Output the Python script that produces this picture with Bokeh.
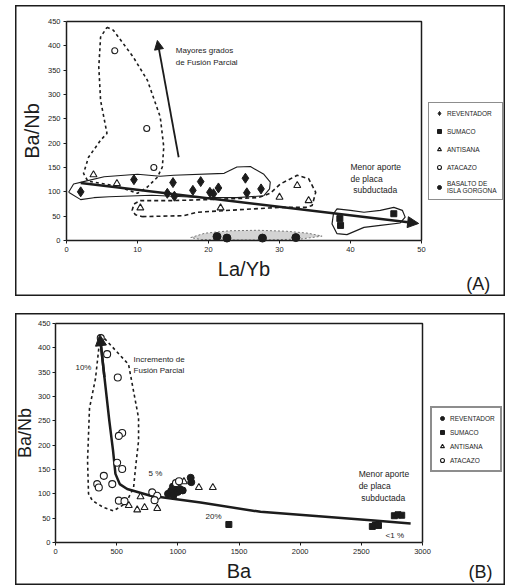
from bokeh.plotting import figure
from bokeh.models import Legend, LegendItem, Arrow, NormalHead, Label, Range1d
from bokeh.layouts import column
from bokeh.embed import file_html
from bokeh.resources import INLINE

FONT = "Liberation Sans"
INK = "#1c1c1c"

# ---------------- Panel A : La/Yb vs Ba/Nb ----------------
a_xticks = [0, 10, 20, 30, 40, 50]
a_yticks = [0, 50, 100, 150, 200, 250, 300, 350, 400, 450]

rev_a_x = [2.0, 9.5, 14.2, 15.0, 15.2, 17.8, 18.9, 20.2, 20.7, 21.4, 25.2, 25.4, 27.4]
rev_a_y = [100, 125, 97, 119, 91, 103, 121, 99, 96, 108, 128, 98, 106]
sum_a_x = [38.5, 38.6, 46.1]
sum_a_y = [45, 31, 55]
ant_a_x = [3.8, 7.1, 10.4, 21.7, 30.0, 32.5, 34.1]
ant_a_y = [135, 117, 67, 67, 89, 113, 82]
ata_a_x = [6.8, 11.3, 12.3]
ata_a_y = [390, 230, 150]
bas_a_x = [21.2, 22.6, 27.6, 32.3]
bas_a_y = [8, 5, 5, 6]

fld_ata_a_x = [5.7, 6.6, 9.4, 11.4, 13.2, 13.7, 13.5, 12.8, 11.4, 10.0, 7.0, 3.0, 2.4, 3.1, 4.8, 5.7, 4.8, 4.55, 4.8, 5.7]
fld_ata_a_y = [438, 432, 377, 329, 254, 192, 151, 130, 110, 97, 112, 122, 138, 171, 206, 220, 288, 356, 418, 438]
fld_ant_a_x = [10.7, 16.5, 18.4, 24.0, 30.0, 33.7, 34.6, 35.1, 34.1, 32.5, 30.1, 28.7, 27.0, 22.0, 15.0, 10.4, 9.5, 9.25, 9.7, 10.7]
fld_ant_a_y = [49, 51, 58, 63, 68, 68, 72, 99, 127, 134, 116, 97, 88, 85, 82, 82, 75, 62, 53, 49]
fld_rev_a_x = [0.3, 1.0, 2.4, 5.3, 10.0, 13.2, 15.1, 22.2, 24.0, 25.9, 27.8, 28.7, 28.6, 27.8, 24.0, 18.0, 12.0, 6.0, 3.85, 2.0, 0.3]
fld_rev_a_y = [99, 116, 121, 131, 136, 132, 134, 138, 151, 152, 136, 120, 106, 92, 88, 89, 93, 90, 88, 84, 99]
fld_sum_a_x = [37.6, 37.4, 38.1, 39.5, 41.9, 44.2, 47.0, 47.7, 47.3, 46.1, 44.2, 41.9, 40.0, 38.1, 37.6]
fld_sum_a_y = [55, 34, 14, 12, 27, 31, 36, 48, 62, 68, 62, 58, 62, 65, 55]
fld_bas_a_x = [17.5, 19.5, 23.0, 27.0, 31.0, 34.0, 36.0, 33.0, 28.0, 23.0, 19.0, 17.5]
fld_bas_a_y = [6, 15, 20, 21, 19, 15, 9, 3, 1, 1, 2, 6]

trend_a_x = [2.0, 49.6]
trend_a_y = [118, 35]
melt_a_x = [15.8, 12.8]
melt_a_y = [171, 411]

# ---------------- Panel B : Ba vs Ba/Nb ----------------
b_xticks = [0, 500, 1000, 1500, 2000, 2500, 3000]
b_yticks = [0, 50, 100, 150, 200, 250, 300, 350, 400, 450]

rev_b_x = [920, 945, 965, 985, 1000, 1015, 1040, 960, 1105, 1110]
rev_b_y = [100, 106, 97, 112, 104, 110, 107, 115, 133, 124]
sum_b_x = [1417, 2590, 2615, 2640, 2770, 2800, 2830]
sum_b_y = [37, 33, 36, 35, 55, 57, 56]
ant_b_x = [599, 668, 728, 832, 695, 1172, 1286, 1050]
ant_b_y = [76, 67, 72, 70, 94, 113, 113, 125]
ata_b_x = [370, 422, 509, 545, 518, 504, 545, 395, 464, 341, 354, 518, 564, 791, 832, 810, 985, 1010]
ata_b_y = [420, 387, 339, 225, 219, 164, 151, 137, 120, 120, 113, 86, 85, 103, 96, 87, 122, 126]

fld_ata_b_x = [368, 597, 638, 679, 679, 654, 638, 572, 474, 392, 302, 270, 262, 278, 327, 360, 368]
fld_ata_b_y = [428, 366, 311, 256, 209, 153, 112, 80, 65, 72, 86, 100, 168, 276, 337, 413, 428]

trend_b_x = [362, 400, 440, 470, 490, 525, 586, 777, 1186, 1676, 2100, 2603, 2903]
trend_b_y = [427, 340, 250, 190, 141, 120, 110, 96, 82, 63, 55, 45, 39]

W = 490


def base_fig(xticks, yticks, h, top_margin, x0_px, x_span_px, top_px, y_span_px, xlab,
             ylab_size, ylab_standoff, ytick_standoff):
    # the frame fills the whole panel; the axes are pinned at the data origin
    xs = (xticks[-1] - xticks[0]) / x_span_px
    ys = (yticks[-1] - yticks[0]) / y_span_px
    xmin = xticks[0] - x0_px * xs
    xmax = xmin + W * xs
    ymax = yticks[-1] + top_px * ys
    ymin = ymax - h * ys
    p = figure(width=W, height=h, x_range=Range1d(xmin, xmax), y_range=Range1d(ymin, ymax),
               output_backend="svg", toolbar_location=None, min_border=0,
               margin=(top_margin, 0, 0, 15))
    p.xgrid.visible = False
    p.ygrid.visible = False
    p.outline_line_color = INK
    p.outline_line_width = 2
    p.background_fill_color = "white"
    p.border_fill_color = "white"
    p.xaxis.ticker = xticks
    p.yaxis.ticker = yticks
    p.xaxis.fixed_location = yticks[0]
    p.yaxis.fixed_location = xticks[0]
    p.xaxis.bounds = (xticks[0], xticks[-1])
    p.yaxis.bounds = (yticks[0], yticks[-1])
    for ax in (p.xaxis[0], p.yaxis[0]):
        ax.axis_line_color = INK
        ax.axis_line_width = 1.5
        ax.major_tick_line_color = INK
        ax.major_tick_out = 3
        ax.major_tick_in = 0
        ax.minor_tick_line_color = None
        ax.major_label_text_font = FONT
        ax.major_label_text_font_size = "7.5px"
        ax.major_label_text_color = INK
        ax.major_label_standoff = 3
        ax.axis_label_text_font = FONT
        ax.axis_label_text_font_size = "20px"
        ax.axis_label_text_font_style = "normal"
        ax.axis_label_text_color = INK
        ax.axis_label_standoff = 3
    p.xaxis.axis_label = xlab
    p.yaxis.axis_label = "Ba/Nb"
    p.yaxis.axis_label_text_font_size = ylab_size
    p.yaxis.axis_label_standoff = ylab_standoff
    p.yaxis.major_label_standoff = ytick_standoff
    # top and right edges of the plot box
    p.line([xticks[0], xticks[-1], xticks[-1]], [yticks[-1], yticks[-1], yticks[0]],
           line_color=INK, line_width=1.5)
    return p


def txt(p, x, y, s, size="8px", align="left"):
    p.add_layout(Label(x=x, y=y, text=s, text_font=FONT, text_font_size=size,
                       text_color=INK, text_align=align, text_baseline="middle"))


def legend(items, loc, bw, spacing):
    return Legend(items=items, location=loc, margin=0, padding=5, spacing=spacing,
                  label_text_font=FONT, label_text_font_size="6.5px", label_text_color=INK,
                  glyph_width=10, glyph_height=10, label_height=10, label_standoff=3,
                  border_line_color=INK, border_line_width=bw, background_fill_alpha=1)


# ---------- Panel A ----------
pa = base_fig(a_xticks, a_yticks, 291, 5, 51, 355, 16, 219, "La/Yb", "20px", 2, 3)

pa.patch(fld_bas_a_x, fld_bas_a_y, fill_color="#c8c8c8", fill_alpha=0.8,
         line_color="#777777", line_dash="2 2", line_width=1)
pa.line(fld_ata_a_x, fld_ata_a_y, line_color=INK, line_dash="3 3", line_width=1.6)
pa.line(fld_ant_a_x, fld_ant_a_y, line_color=INK, line_dash="4 3", line_width=1.6)
pa.line(fld_rev_a_x, fld_rev_a_y, line_color=INK, line_width=1.1)
pa.line(fld_sum_a_x, fld_sum_a_y, line_color=INK, line_width=1.2)

pa.add_layout(Arrow(end=NormalHead(size=11, fill_color=INK, line_color=INK),
                    x_start=trend_a_x[0], y_start=trend_a_y[0],
                    x_end=trend_a_x[1], y_end=trend_a_y[1],
                    line_color=INK, line_width=2.5))
pa.add_layout(Arrow(end=NormalHead(size=9, fill_color=INK, line_color=INK),
                    x_start=melt_a_x[0], y_start=melt_a_y[0],
                    x_end=melt_a_x[1], y_end=melt_a_y[1],
                    line_color=INK, line_width=1.8))

r_rev_a = pa.scatter(rev_a_x, rev_a_y, marker="diamond", size=10, fill_color=INK, line_color=INK)
r_sum_a = pa.scatter(sum_a_x, sum_a_y, marker="square", size=6, fill_color=INK, line_color=INK)
r_ant_a = pa.scatter(ant_a_x, ant_a_y, marker="triangle", size=7, fill_color="white", line_color=INK, line_width=1.1)
r_ata_a = pa.scatter(ata_a_x, ata_a_y, marker="circle", size=6, fill_color="white", line_color=INK, line_width=1.1)
r_bas_a = pa.scatter(bas_a_x, bas_a_y, marker="circle", size=8, fill_color=INK, line_color=INK)

pa.add_layout(legend([LegendItem(label="REVENTADOR", renderers=[r_rev_a]),
                      LegendItem(label="SUMACO", renderers=[r_sum_a]),
                      LegendItem(label="ANTISANA", renderers=[r_ant_a]),
                      LegendItem(label="ATACAZO", renderers=[r_ata_a]),
                      LegendItem(label="BASALTO DE\nISLA GORGONA", renderers=[r_bas_a])],
                     (413, 96), 1.3, 8))

txt(pa, 15.4, 390, "Mayores grados", "8px")
txt(pa, 15.4, 366, "de Fusión Parcial", "8px")
txt(pa, 40.0, 151, "Menor aporte", "8.5px")
txt(pa, 40.0, 127, "de placa", "8.5px")
txt(pa, 40.4, 103, "subductada", "8.5px")
txt(pa, 58.0, -90, "(A)", "18px", "center")

# ---------- Panel B ----------
pb = base_fig(b_xticks, b_yticks, 272, 17, 40, 367, 10, 219, "Ba", "18px", 0, 2)

pb.line(fld_ata_b_x, fld_ata_b_y, line_color=INK, line_dash="3 3", line_width=1.6)
pb.line(trend_b_x, trend_b_y, line_color=INK, line_width=2.5)
pb.add_layout(Arrow(end=NormalHead(size=11, fill_color=INK, line_color=INK),
                    x_start=trend_b_x[1], y_start=trend_b_y[1],
                    x_end=trend_b_x[0], y_end=trend_b_y[0],
                    line_color=INK, line_width=2.5))

r_rev_b = pb.scatter(rev_b_x, rev_b_y, marker="circle", size=7, fill_color=INK, line_color=INK)
r_sum_b = pb.scatter(sum_b_x, sum_b_y, marker="square", size=6, fill_color=INK, line_color=INK)
r_ant_b = pb.scatter(ant_b_x, ant_b_y, marker="triangle", size=7, fill_color="white", line_color=INK, line_width=1.1)
r_ata_b = pb.scatter(ata_b_x, ata_b_y, marker="circle", size=7, fill_color="white", line_color=INK, line_width=1.1)

pb.add_layout(legend([LegendItem(label="REVENTADOR", renderers=[r_rev_b]),
                      LegendItem(label="SUMACO", renderers=[r_sum_b]),
                      LegendItem(label="ANTISANA", renderers=[r_ant_b]),
                      LegendItem(label="ATACAZO", renderers=[r_ata_b])],
                     (415, 113), 2, 4))

txt(pb, 163, 359, "10%", "8px")
txt(pb, 638, 376, "Incremento de", "8px")
txt(pb, 638, 354, "Fusión Parcial", "8px")
txt(pb, 760, 141, "5 %", "8px")
txt(pb, 1226, 53, "20%", "8px")
txt(pb, 2698, 14, "<1 %", "8px")
txt(pb, 2478, 141, "Menor aporte", "8.5px")
txt(pb, 2478, 117, "de placa", "8.5px")
txt(pb, 2500, 92, "subductada", "8.5px")
txt(pb, 3474, -60, "(B)", "18px", "center")

layout = column(pa, pb, spacing=0)
open("out.html", "w").write(file_html(layout, INLINE))
